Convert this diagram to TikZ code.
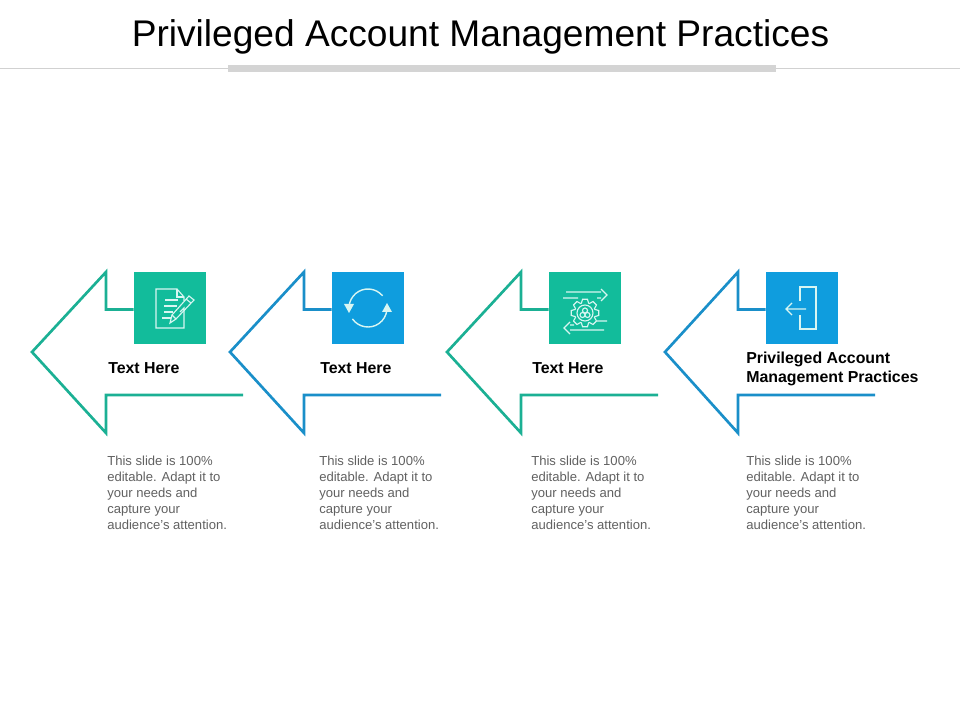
\documentclass[tikz,border=0pt]{standalone}
\usepackage{fontspec}
\setmainfont{Liberation Sans}
\definecolor{tealline}{HTML}{1BB094}
\definecolor{tealbox}{HTML}{12BC9B}
\definecolor{blueline}{HTML}{1A8FC9}
\definecolor{bluebox}{HTML}{0F9DDE}
\definecolor{iconline}{HTML}{D8F6F2}
\tikzset {
    arrow line/.style = {line width = 1.9pt, miter limit = 10},
    icon box/.style = {minimum size = 51.2pt, inner sep = 0pt},
    icon line/.style = {draw = iconline, line width = 0.8pt},
    head label/.style = {
        anchor = west, align = left, inner sep = 0pt,
        font = \fontsize{11.3}{13.5}\selectfont\bfseries
    },
    body label/.style = {
        anchor = north west, align = left, inner sep = 0pt, text = black!62,
        font = \fontsize{9.3}{11.4}\selectfont
    }
}
\newcommand{\slidetext}{This slide is 100\%\\editable. Adapt it to\\your needs and\\capture your\\audience's attention.}
\begin{document}
\begin{tikzpicture}[x = 0.025cm, y = -0.025cm]
    \useasboundingbox (0, 0) rectangle (960, 720);
    % title
    \node (title) [inner sep = 0pt, font = \fontsize{26.4}{30}\selectfont] at (480.5, 37) {Privileged Account Management Practices};
    \draw [black!18, line width = 0.7pt] (0, 68.5) -- (960, 68.5);
    \fill [black!17] (228, 65) rectangle (776, 72);
    % arrows
    \node (box1) [icon box, fill = tealbox] at (170, 308) {};
    \node (box2) [icon box, fill = bluebox] at (368, 308) {};
    \node (box3) [icon box, fill = tealbox] at (585, 308) {};
    \node (box4) [icon box, fill = bluebox] at (802, 308) {};
    \draw [arrow line, tealline] (box1.west |- 0, 309.5) -- (106, 309.5) -- (106, 272) -- (32, 352) -- (106, 433) -- (106, 395) -- (243, 395);
    \draw [arrow line, blueline] (box2.west |- 0, 309.5) -- (304, 309.5) -- (304, 272) -- (230, 352) -- (304, 433) -- (304, 395) -- (441, 395);
    \draw [arrow line, tealline] (box3.west |- 0, 309.5) -- (521, 309.5) -- (521, 272) -- (447, 352) -- (521, 433) -- (521, 395) -- (658, 395);
    \draw [arrow line, blueline] (box4.west |- 0, 309.5) -- (738, 309.5) -- (738, 272) -- (665, 352) -- (738, 433) -- (738, 395) -- (875, 395);
    % labels
    \node (head1) [head label] at (108, 368) {Text Here};
    \node (head2) [head label] at (320, 368) {Text Here};
    \node (head3) [head label] at (532, 368) {Text Here};
    \node (head4) [head label] at (746, 369) {Privileged Account\\Management Practices};
    \node (body1) [body label] at (107, 456) {\slidetext};
    \node (body2) [body label] at (319, 456) {\slidetext};
    \node (body3) [body label] at (531, 456) {\slidetext};
    \node (body4) [body label] at (746, 456) {\slidetext};
    % icon 1
    \draw [icon line] (180, 312) -- (184, 308) -- (184, 328) -- (156, 328) -- (156, 289) -- (177, 289) -- (184, 297) -- (184, 301);
    \draw [icon line] (177, 289) -- (177, 297) -- (184, 297);
    \draw [icon line] (165, 300) -- (178, 300) (164, 306) -- (177, 306) (164, 312) -- (173, 312) (162, 318) -- (171, 318);
    \draw [icon line] (170, 323) -- (172, 315) -- (189, 296) -- (194, 300) -- (176, 319) -- cycle;
    \draw [icon line] (172, 315) -- (176, 319) (186, 299) -- (191, 303);
    % icon 2
    \draw [iconline, line width = 1pt] (368, 308) ++(-175:19) arc [start angle = -175, end angle = -40, radius = 19];
    \draw [iconline, line width = 1pt] (368, 308) ++(-215:19) arc [start angle = -215, end angle = -355, radius = 19];
    \fill [iconline] (344, 304) -- (354, 304) -- (349, 313) -- cycle;
    \fill [iconline] (382, 312) -- (392, 312) -- (387, 303) -- cycle;
    % icon 3
    \draw [icon line] (566, 292) -- (601, 292) (601, 289) -- (607, 295) -- (601, 301) (578, 298) -- (563, 298) (597, 298) -- (601, 298);
    \draw [icon line] (604, 330) -- (570, 330) (570, 334) -- (564, 328) -- (570, 322) (570, 325) -- (574, 325) (597, 321) -- (607, 321);
    \begin{scope}[shift = {(585, 313)}]
        \draw [icon line] (-20:10.5) \foreach \a in {0, 45, ..., 315} { -- (\a-20:10.5) -- (\a-10:14) -- (\a+10:14) -- (\a+20:10.5) } -- cycle;
        \draw [icon line] (0, 0) circle [radius = 8];
        \draw [icon line] (0, -2.5) circle [radius = 2.5] (-2.5, 2) circle [radius = 2.5] (2.5, 2) circle [radius = 2.5];
    \end{scope}
    % icon 4
    \draw [icon line] (800, 301) -- (800, 287) -- (816, 287) -- (816, 329) -- (800, 329) -- (800, 315);
    \draw [icon line] (806, 309) -- (786, 309) (792, 303) -- (786, 309) -- (792, 315);
\end{tikzpicture}
\end{document}
